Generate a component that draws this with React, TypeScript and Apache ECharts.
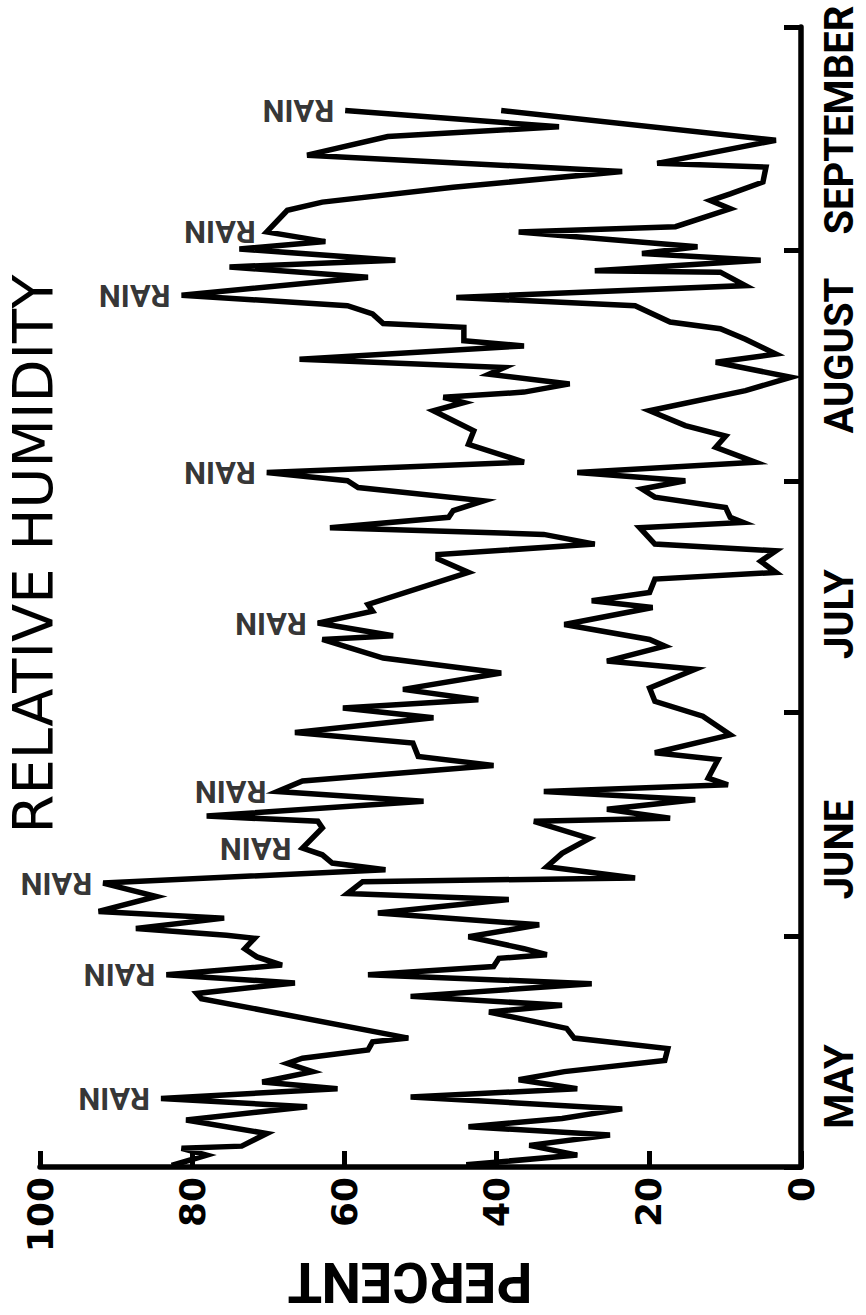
import React, { useEffect, useRef } from "react";
import * as echarts from "echarts";

// Month names along the time axis (bottom = 1 May, top = 1 October)
const months = ["MAY", "JUNE", "JULY", "AUGUST", "SEPTEMBER"];
const monthStartDays = [0, 31, 61, 92, 123, 153];
const monthLabelDays = [10.8, 42.6, 74.2, 108.9, 140.5];
const percentTicks = [0, 20, 40, 60, 80, 100];

// Upper trace (higher humidity): day since 1 May, percent
const upperDays = [
  0.2, 1.6, 2.5, 2.8, 4.5, 6.3, 8.1, 9.2, 10.5, 11.4, 12.8, 13.9, 14.6, 15.7, 16.8, 17.3,
  22.6, 23.3, 24.7, 25.8, 27.1, 28.2, 29.3, 30.7, 31.1, 32.0, 33.4, 34.3, 36.3, 38.1, 39.9,
  40.8, 41.9, 42.8, 45.5, 46.4, 47.1, 49.1, 50.4, 51.8, 53.9, 55.1, 56.9, 58.3, 60.3, 61.6,
  62.7, 64.1, 66.3, 68.3, 70.8, 71.3, 73.0, 74.6, 75.5, 79.8, 81.6, 82.2, 83.6, 84.9, 85.8,
  87.2, 88.1, 89.4, 91.2, 92.1, 93.2, 94.6, 97.0, 98.8, 101.5, 102.6, 103.3, 104.0, 105.1,
  106.4, 107.3, 108.4, 110.2, 110.9, 112.7, 113.2, 114.5, 115.6, 117.0, 119.4, 120.8, 121.7,
  123.2, 124.2, 125.5, 128.4, 129.5, 131.5, 133.6, 135.8, 138.3, 139.6, 141.8,
];
const upperValues = [
  82.7, 78.1, 81.4, 73.5, 70.2, 80.8, 64.9, 84.1, 60.9, 70.8, 64.2, 67.5, 65.5, 56.9, 56.3, 51.6,
  78.8, 79.4, 66.5, 83.4, 68.2, 71.5, 73.1, 71.8, 75.5, 87.4, 75.8, 92.3, 84.7, 91.7, 54.6,
  61.6, 62.9, 65.5, 62.9, 63.5, 78.1, 49.6, 68.8, 65.5, 40.4, 50.3, 51.0, 66.5, 48.3, 60.2,
  42.4, 52.3, 39.4, 54.9, 62.9, 53.6, 63.5, 56.3, 56.9, 43.7, 47.7, 47.7, 27.1, 33.8, 61.9,
  46.3, 45.7, 41.7, 58.2, 59.6, 70.2, 36.4, 43.7, 43.0, 48.3, 44.3, 47.0, 36.4, 30.4,
  41.0, 39.0, 65.9, 36.4, 44.3, 44.3, 54.9, 56.3, 59.6, 81.4, 56.9, 75.1, 53.3,
  73.8, 62.5, 70.2, 67.5, 62.9, 45.7, 23.5, 64.9, 54.3, 31.8, 59.9,
];

// Lower trace (lower humidity)
const lowerDays = [
  0.3, 1.6, 2.9, 4.3, 5.4, 6.5, 7.8, 9.4, 10.5, 11.7, 12.8, 14.3, 15.9, 17.3, 18.6, 20.8, 21.7,
  22.9, 24.6, 25.8, 26.9, 28.0, 28.5, 29.3, 30.9, 32.5, 34.1, 35.9, 36.7, 38.3, 38.8, 40.3,
  42.1, 44.1, 46.4, 46.8, 48.0, 49.3, 50.4, 51.3, 52.2, 54.7, 55.6, 58.0, 60.5, 62.5, 64.3,
  66.8, 67.9, 69.9, 70.8, 72.8, 75.1, 76.0, 77.1, 78.9, 79.8, 81.3, 82.7, 83.6, 85.8, 86.5,
  87.2, 88.5, 89.9, 91.0, 92.1, 93.2, 94.6, 96.6, 98.1, 99.5, 101.5, 104.2, 106.0, 108.0,
  109.1, 111.1, 112.5, 113.4, 115.6, 116.7, 118.3, 120.1, 120.3, 121.7, 122.6, 123.5, 125.5,
  126.2, 128.6, 129.7, 130.6, 132.2, 134.2, 134.7, 137.8, 141.8,
];
const lowerValues = [
  44.0, 29.4, 35.7, 25.1, 43.7, 31.4, 23.5, 51.3, 29.4, 37.1, 31.1, 17.9, 17.5, 29.8, 30.8, 41.0, 31.4,
  51.3, 27.5, 56.9, 40.4, 39.7, 33.4, 36.4, 43.7, 34.4, 55.6, 38.4, 59.6, 57.6, 21.8, 33.4,
  31.4, 27.8, 35.1, 17.2, 25.5, 13.9, 33.8, 9.6, 12.2, 10.9, 19.2, 9.3, 12.9, 19.2, 19.9,
  13.9, 25.5, 17.9, 19.9, 31.1, 19.5, 27.5, 19.9, 19.2, 3.3, 5.3, 3.3, 19.2, 21.2, 7.6,
  9.3, 9.9, 19.2, 20.9, 15.2, 29.4, 6.0, 11.2, 9.9, 15.2, 19.9, 7.3, 1.3, 11.2,
  3.3, 7.3, 10.6, 17.2, 21.8, 45.3, 7.3, 10.6, 27.1, 5.3, 20.9, 13.6, 37.1,
  16.5, 9.3, 11.9, 9.3, 5.0, 4.6, 18.9, 3.3, 39.4,
];

// Days of the upper-trace peaks marked "RAIN"
const rainDays = [9.2, 25.8, 38.1, 42.8, 50.4, 73.0, 93.2, 117.0, 125.5, 141.8];

export default function App() {
  const ref = useRef<HTMLDivElement>(null);

  useEffect(() => {
    if (!ref.current) return;
    const chart = echarts.init(ref.current, null, { renderer: "svg" });
    const upper = upperDays.map((d, i) => [upperValues[i], d]);
    const lower = lowerDays.map((d, i) => [lowerValues[i], d]);
    const rain = rainDays.map((d) => [upperValues[upperDays.indexOf(d)], d]);
    const lineStyle = { color: "#000", width: 5.5, join: "miter", miterLimit: 5 };

    chart.setOption({
      animation: false,
      backgroundColor: "#ffffff",
      grid: { left: 40, right: 65, top: 27, bottom: 148 },
      xAxis: {
        type: "value",
        min: 0,
        max: 100,
        interval: 20,
        inverse: true,
        position: "bottom",
        axisLine: { show: true, lineStyle: { color: "#000", width: 5.5 } },
        axisTick: { show: true, inside: true, length: 16, lineStyle: { color: "#000", width: 5 } },
        axisLabel: {
          rotate: 90,
          margin: 10,
          color: "#000",
          fontFamily: "DejaVu Sans",
          fontWeight: "bold",
          fontSize: 36,
          formatter: (v: number) => String(percentTicks.find((t) => t === v) ?? v),
        },
        splitLine: { show: false },
      },
      yAxis: {
        type: "value",
        min: 0,
        max: 153,
        position: "right",
        axisLine: { show: true, lineStyle: { color: "#000", width: 5.5 } },
        axisTick: {
          show: true,
          inside: true,
          length: 17,
          lineStyle: { color: "#000", width: 5 },
          customValues: monthStartDays,
        },
        axisLabel: {
          show: true,
          rotate: 90,
          margin: 18,
          color: "#000",
          fontFamily: "Roboto",
          fontWeight: "bold",
          fontSize: 40,
          customValues: monthLabelDays,
          formatter: (v: number) => {
            let best = 0;
            monthLabelDays.forEach((m, i) => {
              if (Math.abs(m - v) < Math.abs(monthLabelDays[best] - v)) best = i;
            });
            return months[best];
          },
        },
        splitLine: { show: false },
      },
      graphic: [
        {
          type: "text",
          x: 32,
          y: 554,
          rotation: Math.PI / 2,
          style: {
            text: "RELATIVE HUMIDITY",
            align: "center",
            verticalAlign: "middle",
            fontFamily: "DejaVu Sans",
            fontSize: 56,
            fill: "#000",
          },
        },
        {
          type: "text",
          x: 410,
          y: 1282,
          rotation: Math.PI,
          style: {
            text: "PERCENT",
            align: "center",
            verticalAlign: "middle",
            fontFamily: "Roboto",
            fontWeight: "bold",
            fontSize: 56,
            fill: "#000",
          },
        },
      ],
      series: [
        { type: "line", data: upper, symbol: "none", lineStyle, silent: true },
        { type: "line", data: lower, symbol: "none", lineStyle, silent: true },
        {
          type: "scatter",
          data: rain,
          symbolSize: 2,
          itemStyle: { color: "rgba(0,0,0,0)" },
          silent: true,
          label: {
            show: true,
            formatter: "RAIN",
            position: "left",
            distance: 10,
            rotate: 180,
            align: "left",
            verticalAlign: "middle",
            color: "#000",
            fontFamily: "Roboto",
            fontWeight: "bold",
            fontSize: 31,
          },
        },
      ],
    });
    return () => chart.dispose();
  }, []);

  return (
    <div
      ref={ref}
      style={{ position: "absolute", left: 0, top: 0, width: 866, height: 1315, background: "#fff" }}
    />
  );
}
